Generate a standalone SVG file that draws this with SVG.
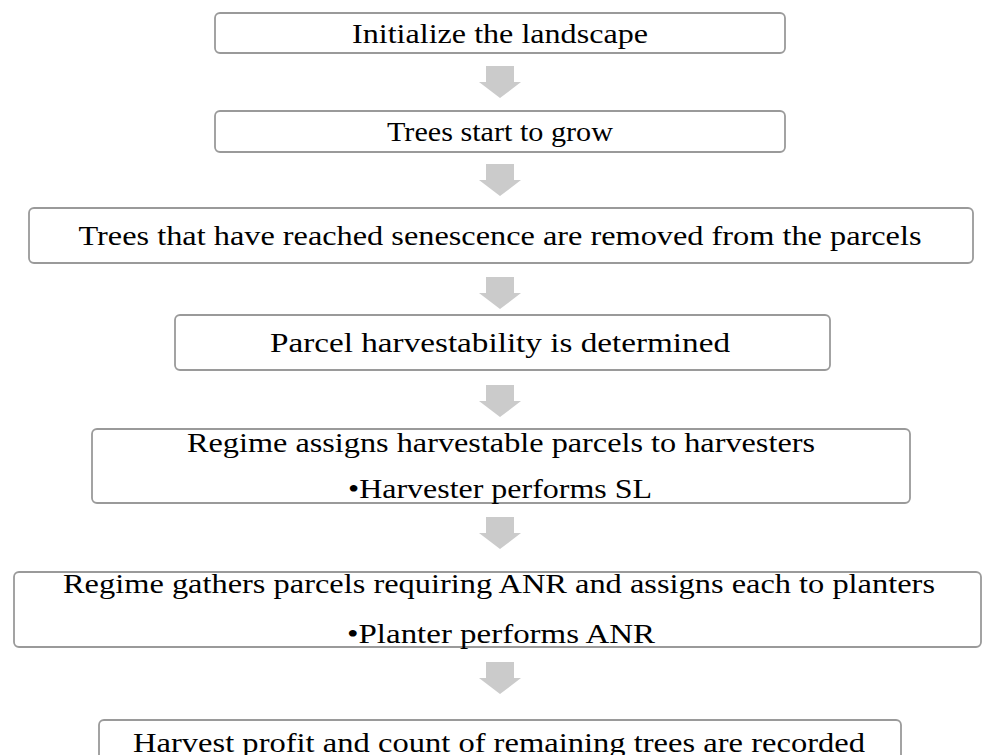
<svg xmlns="http://www.w3.org/2000/svg" width="982" height="755" viewBox="0 0 982 755">
<style>
.box{fill:#ffffff;stroke:#9a9a9a;stroke-width:1.8}
.t{font-family:"Liberation Serif","DejaVu Serif",serif;font-size:28px;fill:#000;text-anchor:middle}
.arr{fill:#cbcbcb}
</style>
<defs>
<path id="dn" d="M-14,0 H14 V16 H21 L0,32 L-21,16 H-14 Z"/>
</defs>
<rect width="982" height="755" fill="#ffffff"/>
<g id="connectors">
<use href="#dn" class="arr" x="500" y="66"/>
<use href="#dn" class="arr" x="500" y="164"/>
<use href="#dn" class="arr" x="500" y="277"/>
<use href="#dn" class="arr" x="500" y="385"/>
<use href="#dn" class="arr" x="500" y="517"/>
<use href="#dn" class="arr" x="500" y="662"/>
</g>
<g id="n1">
<rect class="box" x="215" y="13" width="570" height="40" rx="5"/>
<text class="t" x="500" y="43" textLength="296" lengthAdjust="spacingAndGlyphs">Initialize the landscape</text>
</g>
<g id="n2">
<rect class="box" x="215" y="111" width="570" height="41" rx="5"/>
<text class="t" x="500" y="141" textLength="226" lengthAdjust="spacingAndGlyphs">Trees start to grow</text>
</g>
<g id="n3">
<rect class="box" x="29" y="208" width="944" height="55" rx="5"/>
<text class="t" x="500" y="245" textLength="843" lengthAdjust="spacingAndGlyphs">Trees that have reached senescence are removed from the parcels</text>
</g>
<g id="n4">
<rect class="box" x="175" y="315" width="655" height="55" rx="5"/>
<text class="t" x="500" y="352" textLength="460" lengthAdjust="spacingAndGlyphs">Parcel harvestability is determined</text>
</g>
<g id="n5">
<rect class="box" x="92" y="429" width="818" height="74" rx="5"/>
<text class="t" x="501" y="452" textLength="628" lengthAdjust="spacingAndGlyphs">Regime assigns harvestable parcels to harvesters</text>
<text class="t" x="500" y="498" textLength="304" lengthAdjust="spacingAndGlyphs">•Harvester performs SL</text>
</g>
<g id="n6">
<rect class="box" x="14" y="572" width="967" height="75" rx="5"/>
<text class="t" x="499" y="593" textLength="872" lengthAdjust="spacingAndGlyphs">Regime gathers parcels requiring ANR and assigns each to planters</text>
<text class="t" x="501" y="643" textLength="308" lengthAdjust="spacingAndGlyphs">•Planter performs ANR</text>
</g>
<g id="n7">
<rect class="box" x="99" y="720" width="802" height="50" rx="5"/>
<text class="t" x="499" y="752" textLength="732" lengthAdjust="spacingAndGlyphs">Harvest profit and count of remaining trees are recorded</text>
</g>
</svg>
